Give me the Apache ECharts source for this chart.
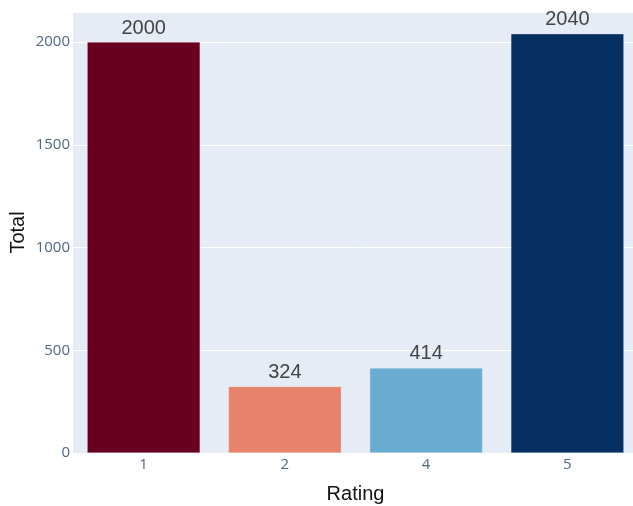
<!DOCTYPE html>
<html>
<head>
<meta charset="utf-8">
<script src="https://cdn.jsdelivr.net/npm/echarts@6/dist/echarts.min.js"></script>
<style>
  html, body { margin: 0; padding: 0; background: #fff; }
  #chart { width: 633px; height: 506px; }
</style>
</head>
<body>
<div id="chart"></div>
<script>
// Ratings and how many reviews gave each one
const ratings = ['1', '2', '4', '5'];
const totals = [2000, 324, 414, 2040];
const barColors = ['#67001F', '#E6836A', '#6AABD2', '#053061'];
const yTicks = [0, 500, 1000, 1500, 2000];

const chart = echarts.init(document.getElementById('chart'), null, { renderer: 'canvas' });
const font = '"Liberation Sans", Arial, Helvetica, sans-serif';
const tickFont = '"Open Sans", "Liberation Sans", sans-serif';

chart.setOption({
  animation: false,
  textStyle: { fontFamily: font },
  grid: {
    left: 73, right: -5, top: 12, bottom: 53,
    containLabel: false,
    outerBoundsMode: 'none',
    show: true, backgroundColor: '#E5ECF6', borderWidth: 0
  },
  xAxis: {
    type: 'category',
    data: ratings,
    name: 'Rating',
    nameLocation: 'middle',
    nameGap: 31,
    nameMoveOverlap: false,
    nameTextStyle: { fontSize: 20, color: '#111', fontFamily: font },
    axisLine: { show: false },
    axisTick: { show: false },
    axisLabel: { color: '#506784', fontSize: 15, margin: 4, fontFamily: tickFont }
  },
  yAxis: {
    type: 'value',
    min: 0,
    max: 2146,
    interval: 500,
    name: 'Total',
    nameLocation: 'middle',
    nameGap: 45,
    nameMoveOverlap: false,
    nameTextStyle: { fontSize: 20, color: '#111', fontFamily: font },
    axisLine: { show: false },
    axisTick: { show: false },
    splitLine: { lineStyle: { color: '#ffffff', width: 1 } },
    axisLabel: {
      color: '#506784', fontSize: 15, margin: 3, fontFamily: tickFont,
      showMaxLabel: false,
      formatter: v => (yTicks.includes(v) ? String(v) : '')
    }
  },
  series: [{
    type: 'bar',
    barWidth: '80%',
    data: totals.map((v, i) => ({
      value: v,
      itemStyle: { color: barColors[i], borderColor: 'rgba(255,255,255,0.6)', borderWidth: 0.5 }
    })),
    label: {
      show: true,
      position: 'top',
      distance: 4,
      fontSize: 20,
      color: '#444',
      fontFamily: font
    }
  }]
});
</script>
</body>
</html>
